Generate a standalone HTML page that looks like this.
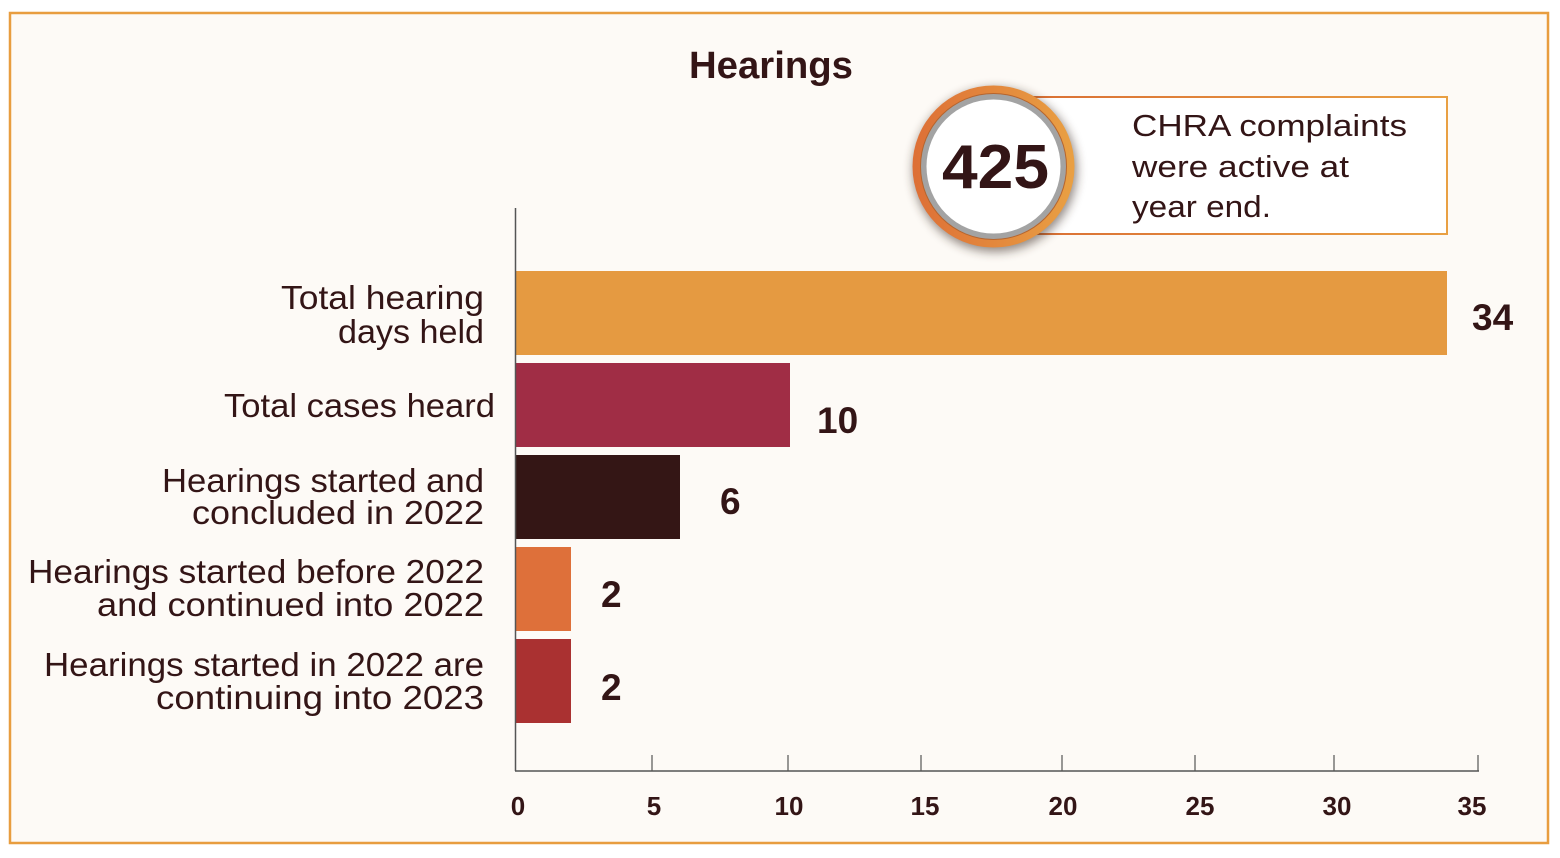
<!DOCTYPE html>
<html>
<head>
<meta charset="utf-8">
<style>
  html,body{margin:0;padding:0;background:#ffffff;}
  svg{display:block;}
  text{font-family:"Liberation Sans","DejaVu Sans",sans-serif;fill:#331516;}
</style>
</head>
<body>
<svg width="1560" height="858" viewBox="0 0 1560 858" xmlns="http://www.w3.org/2000/svg">
  <defs>
    <linearGradient id="ring" x1="0" y1="0" x2="1" y2="0">
      <stop offset="0" stop-color="#DD6F36"/>
      <stop offset="1" stop-color="#E9A043"/>
    </linearGradient>
    <linearGradient id="boxb" x1="0" y1="0" x2="1" y2="0">
      <stop offset="0" stop-color="#D96C33"/>
      <stop offset="1" stop-color="#E9A043"/>
    </linearGradient>
    <filter id="sh" x="-30%" y="-30%" width="160%" height="160%">
      <feGaussianBlur stdDeviation="5"/>
    </filter>
  </defs>

  <!-- panel -->
  <rect x="10" y="13" width="1538" height="830" fill="#FDFAF6" stroke="#E89D3F" stroke-width="2.5"/>

  <!-- title -->
  <text x="771" y="78" font-size="38" font-weight="bold" text-anchor="middle" textLength="164" lengthAdjust="spacingAndGlyphs">Hearings</text>

  <!-- callout box -->
  <rect x="995" y="97" width="452" height="137" fill="#ffffff" stroke="url(#boxb)" stroke-width="2"/>
  <text x="1132" y="136" font-size="31" textLength="275" lengthAdjust="spacingAndGlyphs">CHRA complaints</text>
  <text x="1132" y="177" font-size="31" textLength="217" lengthAdjust="spacingAndGlyphs">were active at</text>
  <text x="1132" y="217" font-size="31" textLength="139" lengthAdjust="spacingAndGlyphs">year end.</text>

  <!-- circle -->
  <circle cx="995" cy="170" r="82" fill="#3a2a22" opacity="0.55" filter="url(#sh)"/>
  <circle cx="993.5" cy="166.5" r="81" fill="url(#ring)"/>
  <circle cx="993.5" cy="166.5" r="73.5" fill="#B5652F"/>
  <circle cx="993.5" cy="166.5" r="72.5" fill="#A3A3A3"/>
  <circle cx="993.5" cy="166.5" r="67" fill="#ffffff"/>
  <text x="995.5" y="188" font-size="62" font-weight="bold" text-anchor="middle" textLength="107" lengthAdjust="spacingAndGlyphs">425</text>

  <!-- bars -->
  <rect x="515" y="271" width="932" height="84" fill="#E59A41"/>
  <rect x="515" y="363" width="275" height="84" fill="#A02D45"/>
  <rect x="515" y="455" width="165" height="84" fill="#341615"/>
  <rect x="515" y="547" width="56" height="84" fill="#DE703A"/>
  <rect x="515" y="639" width="56" height="84" fill="#AA3131"/>

  <!-- axes -->
  <line x1="515.5" y1="208" x2="515.5" y2="771" stroke="#555" stroke-width="1.5"/>
  <line x1="515" y1="771" x2="1479" y2="771" stroke="#555" stroke-width="1.5"/>
  <g stroke="#555" stroke-width="1.2">
    <line x1="652" y1="755" x2="652" y2="771"/>
    <line x1="788" y1="755" x2="788" y2="771"/>
    <line x1="921" y1="755" x2="921" y2="771"/>
    <line x1="1062" y1="755" x2="1062" y2="771"/>
    <line x1="1195" y1="755" x2="1195" y2="771"/>
    <line x1="1334" y1="755" x2="1334" y2="771"/>
    <line x1="1478" y1="755" x2="1478" y2="771"/>
  </g>

  <!-- tick labels -->
  <g font-size="26" font-weight="bold" text-anchor="middle">
    <text x="518" y="815">0</text>
    <text x="654" y="815">5</text>
    <text x="789" y="815">10</text>
    <text x="925" y="815">15</text>
    <text x="1063" y="815">20</text>
    <text x="1200" y="815">25</text>
    <text x="1337" y="815">30</text>
    <text x="1472" y="815">35</text>
  </g>

  <!-- value labels -->
  <g font-size="37" font-weight="bold">
    <text x="1472" y="330">34</text>
    <text x="817" y="433">10</text>
    <text x="720" y="514">6</text>
    <text x="601" y="607">2</text>
    <text x="601" y="700">2</text>
  </g>

  <!-- category labels -->
  <g font-size="33" text-anchor="end">
    <text x="484" y="309" textLength="203" lengthAdjust="spacingAndGlyphs">Total hearing</text>
    <text x="484" y="343" textLength="146" lengthAdjust="spacingAndGlyphs">days held</text>
    <text x="495" y="417" textLength="271" lengthAdjust="spacingAndGlyphs">Total cases heard</text>
    <text x="484" y="492" textLength="322" lengthAdjust="spacingAndGlyphs">Hearings started and</text>
    <text x="484" y="524" textLength="292" lengthAdjust="spacingAndGlyphs">concluded in 2022</text>
    <text x="484" y="583" textLength="456" lengthAdjust="spacingAndGlyphs">Hearings started before 2022</text>
    <text x="484" y="616" textLength="387" lengthAdjust="spacingAndGlyphs">and continued into 2022</text>
    <text x="484" y="676" textLength="440" lengthAdjust="spacingAndGlyphs">Hearings started in 2022 are</text>
    <text x="484" y="709" textLength="328" lengthAdjust="spacingAndGlyphs">continuing into 2023</text>
  </g>
</svg>
</body>
</html>
